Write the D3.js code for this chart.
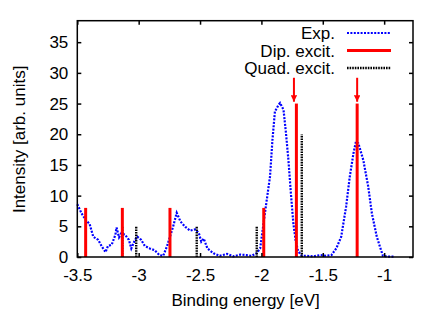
<!doctype html>
<html lang="en">
<head>
    <meta charset="utf-8">
    <title>Binding energy</title>
    <style type="text/css">
        html, body {
            margin: 0;
            padding: 0;
            background-color: #fff;
            overflow: hidden;
        }
        text {
            font-family: "Liberation Sans", Arial, sans-serif;
            fill: #000;
        }
    </style>
</head>
<body>
    <svg id="chart" width="442" height="309"></svg>

    <script src="https://cdn.jsdelivr.net/npm/d3@7"></script>
    <script>
        // experimental spectrum
        const expX = [-3.5, -3.465, -3.43, -3.40, -3.37, -3.33, -3.30, -3.27, -3.25, -3.22, -3.19, -3.18, -3.16, -3.14, -3.11, -3.08, -3.06, -3.03, -3.01, -2.98, -2.95, -2.91, -2.87, -2.83, -2.80, -2.77, -2.745, -2.72, -2.69, -2.66, -2.62, -2.58, -2.54, -2.51, -2.49, -2.47, -2.44, -2.39, -2.34, -2.28, -2.23, -2.17, -2.12, -2.08, -2.04, -2.01, -1.99, -1.96, -1.93, -1.91, -1.89, -1.86, -1.848, -1.82, -1.80, -1.78, -1.76, -1.74, -1.72, -1.70, -1.67, -1.63, -1.58, -1.52, -1.47, -1.43, -1.39, -1.35, -1.31, -1.28, -1.25, -1.23, -1.21, -1.17, -1.13, -1.10, -1.06, -1.03, -1.01, -0.97, -0.92];
        const expY = [8.6, 7.1, 6.0, 5.4, 3.3, 2.8, 1.7, 0.8, 1.8, 2.0, 3.6, 4.8, 3.2, 3.9, 3.6, 2.8, 1.4, 2.8, 3.3, 2.8, 1.8, 1.4, 1.1, 0.3, 0.2, 1.7, 3.3, 4.9, 7.2, 5.8, 4.9, 4.3, 4.5, 3.9, 2.5, 3.0, 1.4, 0.6, 0.2, 0.5, 0.1, 0.4, 0.3, 0.2, 0.6, 1.4, 4.4, 8.8, 13.1, 19.1, 23.7, 24.8, 25.1, 24.0, 20.2, 15.8, 10.4, 5.5, 2.5, 0.9, 0.2, 0.2, 0.1, 0.3, 0.2, 0.3, 1.4, 3.3, 8.2, 13.1, 16.9, 18.8, 18.5, 15.8, 11.5, 7.1, 3.3, 1.4, 0.2, 0.05, 0.05];

        // dipole excitations
        const dipX = [-3.432, -3.133, -2.745, -1.981, -1.715, -1.22];
        const dipY = [8, 8, 8, 8, 25, 25];

        // quadrupole excitations
        const quadX = [-3.133, -3.02, -2.527, -2.038, -1.671];
        const quadY = [5, 5, 5, 5, 20];

        // arrows marking the two main peaks
        const arrowX = [-1.735, -1.22];
        const arrowFrom = 29.2;
        const arrowTo = 25.3;

        const xTicks = [-3.5, -3, -2.5, -2, -1.5, -1];
        const yTicks = [0, 5, 10, 15, 20, 25, 30, 35];
        const legendLabels = ["Exp.", "Dip. excit.", "Quad. excit."];

        const svg = d3.select("#chart");
        const mLeft = 77.3, mRight = 413, mTop = 20.7, mBottom = 257;
        const fontSize = "17px";

        const x = d3.scaleLinear().domain([-3.5, -0.765]).range([mLeft, mRight]);
        const y = d3.scaleLinear().domain([0, 38.5]).range([mBottom, mTop]);

        const blue = "#0000ff";
        const red = "#ff0000";

        svg.append("defs").append("marker")
            .attr("id", "head")
            .attr("viewBox", "0 0 10 10")
            .attr("refX", 10).attr("refY", 5)
            .attr("markerWidth", 3.2).attr("markerHeight", 3.2)
            .attr("markerUnits", "strokeWidth")
            .attr("orient", "auto")
            .append("path")
            .attr("d", "M0,0 L10,5 L0,10 z")
            .attr("fill", red);

        // experimental curve
        const line = d3.line().x((d, i) => x(expX[i])).y(d => y(d));
        svg.append("path")
            .attr("d", line(expY))
            .attr("fill", "none")
            .attr("stroke", blue)
            .attr("stroke-width", 2.2)
            .attr("stroke-dasharray", "2,1.4");

        // quadrupole sticks
        svg.selectAll(".quad").data(quadY).enter().append("line")
            .attr("x1", (d, i) => x(quadX[i])).attr("x2", (d, i) => x(quadX[i]))
            .attr("y1", y(0)).attr("y2", d => y(d))
            .attr("stroke", "#000")
            .attr("stroke-width", 2.4)
            .attr("stroke-dasharray", "1.6,1");

        // dipole sticks
        svg.selectAll(".dip").data(dipY).enter().append("line")
            .attr("x1", (d, i) => x(dipX[i])).attr("x2", (d, i) => x(dipX[i]))
            .attr("y1", y(0)).attr("y2", d => y(d))
            .attr("stroke", red)
            .attr("stroke-width", 3);

        // arrows
        svg.selectAll(".arrow").data(arrowX).enter().append("line")
            .attr("x1", d => x(d)).attr("x2", d => x(d))
            .attr("y1", y(arrowFrom)).attr("y2", y(arrowTo))
            .attr("stroke", red)
            .attr("stroke-width", 2)
            .attr("marker-end", "url(#head)");

        // frame and ticks
        const tickLen = 4;
        svg.append("rect")
            .attr("x", mLeft).attr("y", mTop)
            .attr("width", mRight - mLeft).attr("height", mBottom - mTop)
            .attr("fill", "none").attr("stroke", "#000").attr("stroke-width", 1.5);

        const xAxis = svg.append("g").attr("transform", `translate(0,${mBottom})`)
            .call(d3.axisBottom(x).tickValues(xTicks).tickSizeInner(-tickLen).tickSizeOuter(0).tickPadding(11.5));
        svg.append("g").attr("transform", `translate(0,${mTop})`)
            .call(d3.axisTop(x).tickValues(xTicks).tickSizeInner(-tickLen).tickSizeOuter(0).tickFormat(""));
        svg.append("g").attr("transform", `translate(${mLeft},0)`)
            .call(d3.axisLeft(y).tickValues(yTicks).tickSizeInner(-tickLen).tickSizeOuter(0).tickPadding(9));
        svg.append("g").attr("transform", `translate(${mRight},0)`)
            .call(d3.axisRight(y).tickValues(yTicks).tickSizeInner(-tickLen).tickSizeOuter(0).tickFormat(""));

        svg.selectAll(".domain").remove();
        svg.selectAll(".tick line").attr("stroke", "#000").attr("stroke-width", 1.5);
        svg.selectAll(".tick text")
            .style("font-family", "'Liberation Sans', Arial, sans-serif")
            .style("font-size", fontSize)
            .attr("fill", "#000");
        xAxis.selectAll(".tick text").text(d => String(d));

        // axis titles
        svg.append("text")
            .attr("x", (mLeft + mRight) / 2 + 0.5).attr("y", 305.5)
            .attr("text-anchor", "middle")
            .style("font-size", fontSize)
            .text("Binding energy [eV]");
        svg.append("text")
            .attr("transform", `translate(24.5,${(mTop + mBottom) / 2 + 0.5}) rotate(-90)`)
            .attr("text-anchor", "middle")
            .style("font-size", fontSize)
            .text("Intensity [arb. units]");

        // legend
        const legY = [33, 50.5, 68];
        const legend = svg.selectAll(".leg").data(legendLabels).enter().append("g")
            .attr("transform", (d, i) => `translate(0,${legY[i]})`);
        legend.append("text")
            .attr("x", 335).attr("y", 6)
            .attr("text-anchor", "end")
            .style("font-size", fontSize)
            .text(d => d);
        legend.append("line")
            .attr("x1", 347).attr("x2", 391).attr("y1", 0).attr("y2", 0)
            .attr("stroke", (d, i) => [blue, red, "#000"][i])
            .attr("stroke-width", (d, i) => [2.2, 3, 2.4][i])
            .attr("stroke-dasharray", (d, i) => ["2,1.4", null, "1.6,1"][i]);
    </script>
</body>
</html>
